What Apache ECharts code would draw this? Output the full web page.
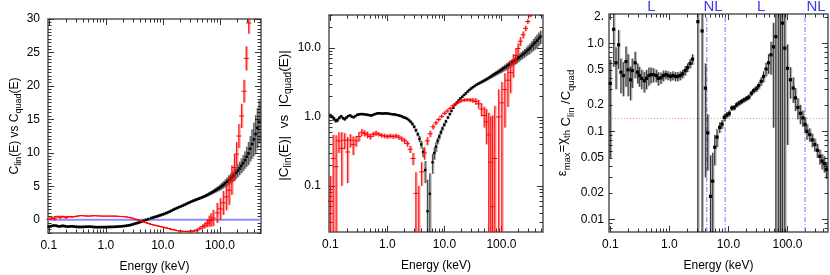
<!DOCTYPE html>
<html><head><meta charset="utf-8">
<script src="https://cdn.jsdelivr.net/npm/echarts@6/dist/echarts.min.js"></script>
<style>html,body{margin:0;padding:0;background:#fff}#c{width:830px;height:275px}</style>
</head><body><div id="c"></div>
<script>
// ---------- axis ranges & tick labels ----------
const p1Energy = [0.097, 525];
const p2Energy = [0.0945, 537];
const p3Energy = [0.095, 485];
const energyMajorTicks = [0.1, 1, 10, 100];
const energyTickLabels = ['0.1', '1.0', '10.0', '100.0'];

const p1Range = [-2, 30];
const p1TickValues = [0, 5, 10, 15, 20, 25, 30];
const p1TickLabels = ['0', '5', '10', '15', '20', '25', '30'];

const p2Range = [0.0215, 30];
const p2TickValues = [0.1, 1, 10];
const p2TickLabels = ['0.1', '1.0', '10.0'];

const p3Range = [0.0072, 2.15];
const p3LabelValues = [0.01, 0.02, 0.05, 0.1, 0.2, 0.5, 1, 2];
const p3TickLabels = ['0.01', '0.02', '0.05', '0.1', '0.2', '0.5', '1.0', '2.'];
const p3MajorTicks = [0.01, 0.1, 1];

// ---------- C_lin(E) (black) ----------
const eLin = [
0.100,0.108,0.115,0.124,0.133,0.143,0.154,0.166,0.178,0.191,
0.205,0.221,0.237,0.255,0.274,0.294,0.316,0.340,0.365,0.392,
0.422,0.453,0.487,0.523,0.562,0.604,0.649,0.698,0.750,0.806,
0.866,0.931,1.00,1.07,1.15,1.24,1.33,1.43,1.54,1.65,
1.78,1.91,2.05,2.21,2.37,2.55,2.74,2.94,3.16,3.40,
3.65,3.92,4.22,4.60,5.05,5.55,6.20,6.65,7.10,7.60,
8.10,8.66,9.20,9.90,10.6,11.5,12.4,13.3,14.3,15.4,
16.5,17.8,19.1,20.5,22.1,23.7,25.5,27.4,29.4,31.6,
34.0,36.5,39.2,42.2,45.3,48.7,52.3,56.2,60.4,64.9,
69.8,75.0,80.6,86.6,93.1,100,107,115,124,133,
143,154,165,178,191,205,221,237,255,274,
294,316,340,365,392,422,453,487];
const cLin = [
-1.05,-1.00,-0.93,-0.88,-0.90,-0.97,-1.02,-0.96,-0.93,-0.98,
-1.03,-1.05,-1.01,-0.99,-1.03,-1.07,-1.09,-1.10,-1.10,-1.09,
-1.08,-1.07,-1.06,-1.05,-1.07,-1.10,-1.12,-1.13,-1.13,-1.12,
-1.12,-1.13,-1.12,-1.11,-1.10,-1.09,-1.09,-1.07,-1.06,-1.04,
-1.02,-0.99,-0.97,-0.94,-0.90,-0.85,-0.79,-0.72,-0.64,-0.56,
-0.48,-0.40,-0.31,-0.17,-0.043,0.077,0.22,0.30,0.37,0.45,
0.52,0.60,0.68,0.77,0.86,0.98,1.10,1.22,1.36,1.50,
1.62,1.74,1.86,1.96,2.08,2.20,2.33,2.46,2.58,2.70,
2.81,2.92,3.02,3.12,3.22,3.33,3.44,3.56,3.70,3.84,
3.99,4.14,4.30,4.46,4.63,4.80,5.00,5.20,5.42,5.65,
5.90,6.15,6.42,6.70,7.00,7.30,7.65,8.05,8.45,8.90,
9.40,9.90,10.6,11.3,12.0,12.8,13.7,14.6];
const cLinErr = [
0.06,0.06,0.06,0.06,0.06,0.05,0.05,0.05,0.05,0.05,
0.04,0.04,0.04,0.04,0.04,0.04,0.04,0.04,0.04,0.04,
0.04,0.04,0.04,0.04,0.04,0.04,0.04,0.04,0.04,0.04,
0.04,0.04,0.04,0.04,0.04,0.04,0.04,0.04,0.04,0.04,
0.04,0.04,0.04,0.04,0.04,0.04,0.04,0.04,0.04,0.04,
0.05,0.05,0.05,0.06,0.08,0.075,0.07,0.06,0.06,0.05,
0.05,0.05,0.05,0.05,0.05,0.05,0.05,0.05,0.05,0.05,
0.05,0.05,0.05,0.06,0.07,0.08,0.08,0.09,0.10,0.10,
0.11,0.12,0.13,0.14,0.15,0.16,0.18,0.20,0.22,0.25,
0.28,0.30,0.33,0.36,0.40,0.45,0.50,0.55,0.60,0.65,
0.70,0.75,0.80,0.85,0.90,0.95,1.00,1.10,1.20,1.30,
1.50,1.70,1.90,2.20,2.50,2.80,3.00,3.20];

// ---------- C_quad(E) (red) ----------
const eQuad = [
0.100,0.112,0.126,0.141,0.158,0.178,0.200,0.224,0.251,0.282,
0.316,0.355,0.398,0.447,0.501,0.562,0.631,0.708,0.794,0.891,
1.00,1.12,1.26,1.41,1.58,1.78,2.00,2.24,2.51,2.82,
3.16,3.55,3.98,4.47,5.01,5.62,6.31,7.08,7.94,8.91,
10.0,11.2,12.6,14.1,15.8,17.8,20.0,22.4,25.1,28.2,
31.6,35.5,39.8,44.6,50.0,54.6,60.0,65.0,70.0,76.5,
89.5,102,115,130,145,162,180,196,215,240,
265,290,320];
const cQuad = [
0.06,0.25,0.19,0.45,0.35,0.46,0.31,0.46,0.40,0.45,
0.52,0.60,0.58,0.55,0.52,0.56,0.58,0.56,0.54,0.53,
0.52,0.53,0.52,0.53,0.51,0.48,0.45,0.41,0.34,0.25,
0.078,-0.02,-0.16,-0.30,-0.45,-0.57,-0.72,-0.82,-0.92,-1.02,
-1.13,-1.22,-1.33,-1.45,-1.55,-1.64,-1.72,-1.76,-1.77,-1.76,
-1.74,-1.68,-1.55,-1.30,-1.05,-0.85,-0.55,-0.22,-0.05,0.25,
1.0,1.6,2.5,3.4,4.4,5.9,7.8,9.8,12.5,15.5,
19.2,24.1,29.4];
const cQuadErr = [
0.08,0.30,0.35,0.15,0.25,0.12,0.20,0.10,0.12,0.08,
0.08,0.07,0.06,0.06,0.05,0.05,0.05,0.04,0.04,0.04,
0.04,0.04,0.04,0.04,0.04,0.04,0.04,0.04,0.04,0.05,
0.08,0.08,0.06,0.06,0.06,0.06,0.06,0.06,0.06,0.06,
0.07,0.07,0.07,0.08,0.08,0.08,0.09,0.10,0.10,0.12,
0.14,0.18,0.22,0.28,0.35,0.45,0.60,0.80,1.0,1.2,
1.5,1.6,1.8,2.0,2.2,2.2,2.0,1.8,1.8,1.8,
1.7,1.8,1.6];

// ---------- eps_max (black, right panel) ----------
const eEps = [
0.100,0.114,0.125,0.138,0.151,0.166,0.184,0.200,0.220,0.235,
0.263,0.290,0.310,0.340,0.375,0.410,0.450,0.490,0.540,0.600,
0.650,0.720,0.790,0.870,0.950,1.05,1.15,1.27,1.39,1.53,
1.68,1.85,2.03,2.24,2.46,3.03,3.58,4.07,4.46,4.97,
5.41,5.86,6.40,7.10,7.77,8.50,9.40,10.3,11.4,12.5,
13.8,15.2,16.7,18.3,20.2,22.1,24.4,26.8,29.6,32.5,
35.8,39.3,43.3,47.7,52.5,57.7,63.5,70.0,76.0,82.0,
90.0,100,112,125,136,150,165,182,198,214,
238,262,290,320,353,385,420,455];
const eps = [
0.35,1.44,0.60,0.96,0.47,0.43,0.62,0.50,0.385,0.49,
0.60,0.47,0.43,0.40,0.375,0.40,0.43,0.44,0.44,0.43,
0.40,0.405,0.43,0.44,0.43,0.42,0.43,0.42,0.42,0.43,
0.45,0.49,0.53,0.59,0.66,1.76,1.38,0.31,0.096,0.0183,
0.0272,0.066,0.086,0.111,0.121,0.144,0.153,0.160,0.184,0.186,
0.200,0.210,0.218,0.227,0.236,0.245,0.270,0.290,0.305,0.330,
0.370,0.420,0.510,0.600,0.740,0.910,1.19,2.6,3.5,1.69,
0.88,0.52,0.385,0.31,0.24,0.187,0.160,0.142,0.120,0.100,
0.092,0.080,0.071,0.061,0.052,0.046,0.043,0.037];
const epsErr = [
0.30,0.90,0.30,0.45,0.20,0.18,0.30,0.25,0.16,0.18,
0.20,0.12,0.11,0.10,0.10,0.10,0.10,0.09,0.08,0.07,
0.07,0.06,0.06,0.05,0.05,0.05,0.05,0.05,0.05,0.05,
0.05,0.06,0.06,0.07,0.09,5.0,5.0,0.28,0.06,0.035,
0.03,0.025,0.02,0.015,0.014,0.014,0.013,0.013,0.013,0.013,
0.014,0.014,0.015,0.015,0.016,0.017,0.02,0.022,0.025,0.03,
0.04,0.06,0.09,0.15,0.30,0.80,3.0,8.0,10.0,5.0,
2.0,0.45,0.15,0.10,0.07,0.05,0.04,0.03,0.025,0.02,
0.016,0.014,0.012,0.011,0.010,0.009,0.009,0.008];

// ---------- reference lines & region labels (right panel) ----------
const chiTh = [0.14];
const regionEdges = [4.3, 8.8, 198];
const regionLabels = ['L', 'NL', 'L', 'NL'];
const regionLabelEnergy = [0.495, 5.5, 36, 305];
const zeroLine = [0];

// ---------- helpers ----------
const FONT = '"Liberation Sans", Arial, Helvetica, sans-serif';
const TICK = {color: '#333', width: 1};

function labelFor(v, vals, labels) {
  for (let i = 0; i < vals.length; i++) {
    if (Math.abs(v - vals[i]) <= 1e-3 * Math.max(1e-3, Math.abs(vals[i]))) return labels[i];
  }
  return '';
}
function logMinor(lo, hi) {
  const out = [];
  for (let d = -3; d <= 3; d++) for (let m = 2; m <= 9; m++) {
    const v = +(m * Math.pow(10, d)).toPrecision(6);
    if (v >= lo && v <= hi) out.push(v);
  }
  return out;
}
function linMinor(lo, hi, step) {
  const out = [];
  for (let v = lo; v <= hi + 1e-9; v += step) out.push(+v.toFixed(4));
  return out;
}

const NOLINE = {show: false, onZero: false};

function xAxesFor(gi, range) {
  const minor = logMinor(range[0], range[1]);
  const base = {gridIndex: gi, type: 'log', logBase: 10, min: range[0], max: range[1],
    axisLine: NOLINE, splitLine: {show: false}, minorTick: {show: false}};
  return [
    Object.assign({}, base, {position: 'bottom', name: 'Energy (keV)', nameLocation: 'middle', nameGap: 28,
      nameTextStyle: {fontFamily: FONT, fontSize: 12, color: '#000'},
      axisTick: {show: true, inside: true, length: 6, customValues: energyMajorTicks, lineStyle: TICK},
      axisLabel: {show: true, customValues: energyMajorTicks, margin: 7, fontFamily: FONT, fontSize: 12, color: '#000',
        formatter: v => labelFor(v, energyMajorTicks, energyTickLabels)}}),
    Object.assign({}, base, {position: 'bottom', axisTick: {show: true, inside: true, length: 3.5, customValues: minor, lineStyle: TICK}, axisLabel: {show: false}}),
    Object.assign({}, base, {position: 'top', axisTick: {show: true, inside: true, length: 6, customValues: energyMajorTicks, lineStyle: TICK}, axisLabel: {show: false}}),
    Object.assign({}, base, {position: 'top', axisTick: {show: true, inside: true, length: 3.5, customValues: minor, lineStyle: TICK}, axisLabel: {show: false}})
  ];
}
function yAxesFor(gi, o) {
  const base = {gridIndex: gi, type: o.type, min: o.range[0], max: o.range[1],
    axisLine: NOLINE, splitLine: {show: false}, minorTick: {show: false}};
  if (o.type === 'log') base.logBase = 10;
  return [
    Object.assign({}, base, {position: 'left', name: o.name, nameLocation: 'middle', nameGap: o.nameGap, nameRotate: 90,
      nameTextStyle: {rich: o.rich, padding: o.namePad || 0},
      axisTick: {show: true, inside: true, length: 6, customValues: o.major, lineStyle: TICK},
      axisLabel: {show: true, customValues: o.labelValues, margin: o.labelMargin, fontFamily: FONT, fontSize: 12, color: '#000',
        formatter: v => labelFor(v, o.labelValues, o.labels)}}),
    Object.assign({}, base, {position: 'left', axisTick: {show: true, inside: true, length: 3.5, customValues: o.minor, lineStyle: TICK}, axisLabel: {show: false}}),
    Object.assign({}, base, {position: 'right', axisTick: {show: true, inside: true, length: 6, customValues: o.major, lineStyle: TICK}, axisLabel: {show: false}}),
    Object.assign({}, base, {position: 'right', axisTick: {show: true, inside: true, length: 3.5, customValues: o.minor, lineStyle: TICK}, axisLabel: {show: false}})
  ];
}

function errSeries(o) {
  const data = o.E.map((e, i) => [e, o.abs ? Math.abs(o.V[i]) : o.V[i], o.Err[i]]);
  const red = o.kind === 'red';
  return {
    type: 'custom', xAxisIndex: o.axis, yAxisIndex: o.axis, silent: true, animation: false,
    data: data, encode: {x: 0, y: 1},
    renderItem: function (params, api) {
      const x = api.value(0), v = api.value(1), er = api.value(2);
      const lo = Math.max(v - er, o.yMin), hi = Math.min(v + er, o.yMax);
      const ch = [];
      if (hi > lo) {
        const a = api.coord([x, lo]), b = api.coord([x, hi]);
        ch.push({type: 'line', shape: {x1: a[0] + 0.5, y1: a[1], x2: b[0] + 0.5, y2: b[1]},
          style: {stroke: red ? 'rgba(255,0,0,0.38)' : 'rgba(0,0,0,0.3)', lineWidth: 2.6}});
        ch.push({type: 'line', shape: {x1: a[0], y1: a[1], x2: b[0], y2: b[1]},
          style: {stroke: red ? '#ff1010' : o.core, lineWidth: 1}});
      }
      if (v >= o.yMin && v <= o.yMax) {
        const p = api.coord([x, v]);
        if (red) {
          ch.push({type: 'line', shape: {x1: p[0] - 2.5, y1: p[1], x2: p[0] + 2.5, y2: p[1]}, style: {stroke: '#ff0000', lineWidth: 1}});
        } else {
          const s = o.size;
          ch.push({type: 'rect', shape: {x: p[0] - s / 2, y: p[1] - s / 2, width: s, height: s}, style: {fill: '#000'}});
        }
      }
      return {type: 'group', children: ch};
    }
  };
}
function hLineSeries(axis, xr, values, color, width, dash) {
  return {type: 'custom', xAxisIndex: axis, yAxisIndex: axis, silent: true, animation: false,
    data: values.map(v => [xr[0], v]), encode: {x: 0, y: 1},
    renderItem: function (params, api) {
      const a = api.coord([xr[0], api.value(1)]), b = api.coord([xr[1], api.value(1)]);
      return {type: 'line', shape: {x1: a[0], y1: a[1], x2: b[0], y2: b[1]},
        style: {stroke: color, lineWidth: width, lineDash: dash}};
    }};
}
function vLineSeries(axis, values, yr, color, width, dash) {
  return {type: 'custom', xAxisIndex: axis, yAxisIndex: axis, silent: true, animation: false,
    data: values.map(v => [v, yr[1]]), encode: {x: 0, y: 1},
    renderItem: function (params, api) {
      const a = api.coord([api.value(0), yr[0]]), b = api.coord([api.value(0), yr[1]]);
      return {type: 'line', shape: {x1: a[0], y1: a[1], x2: b[0], y2: b[1]},
        style: {stroke: color, lineWidth: width, lineDash: dash}};
    }};
}

const subRich = {
  n: {fontFamily: FONT, fontSize: 12, color: '#000', verticalAlign: 'top'},
  s: {fontFamily: FONT, fontSize: 9, color: '#000', verticalAlign: 'top', padding: [5, 0, 0, 0]}
};
const subRich2 = {
  n: {fontFamily: FONT, fontSize: 13.5, color: '#000', verticalAlign: 'top'},
  s: {fontFamily: FONT, fontSize: 10, color: '#000', verticalAlign: 'top', padding: [6, 0, 0, 0]}
};
const epsRich = {
  g: {fontFamily: FONT, fontSize: 13, color: '#000', verticalAlign: 'top'},
  s: {fontFamily: FONT, fontSize: 9.5, color: '#000', verticalAlign: 'top', padding: [7, 0, 0, 0]},
  d: {fontFamily: FONT, fontSize: 13, color: '#000', verticalAlign: 'top', padding: [4, 0, 0, 0]},
  ds: {fontFamily: FONT, fontSize: 9.5, color: '#000', verticalAlign: 'top', padding: [11, 0, 0, 0]}
};

const grids = [
  {left: 48, top: 19, width: 213, height: 214},
  {left: 329, top: 15, width: 214, height: 217},
  {left: 609, top: 14, width: 219, height: 218}
].map(g => Object.assign(g, {show: true, borderColor: '#555', borderWidth: 1.5, backgroundColor: 'transparent', containLabel: false, outerBoundsMode: 'none'}));

const xAxis = [].concat(xAxesFor(0, p1Energy), xAxesFor(1, p2Energy), xAxesFor(2, p3Energy));
const yAxis = [].concat(
  yAxesFor(0, {type: 'value', range: p1Range, major: p1TickValues, labelValues: p1TickValues, labels: p1TickLabels,
    minor: linMinor(p1Range[0], p1Range[1], 0.5), labelMargin: 8, nameGap: 24,
    name: '{n|C}{s|lin}{n|(E) vs C}{s|quad}{n|(E)}', rich: subRich}),
  yAxesFor(1, {type: 'log', range: p2Range, major: p2TickValues, labelValues: p2TickValues, labels: p2TickLabels,
    minor: logMinor(p2Range[0], p2Range[1]), labelMargin: 8, nameGap: 35, namePad: [0, 0, 0, 16],
    name: '{n||C}{s|lin}{n|(E)|  vs  |C}{s|quad}{n|(E)|}', rich: subRich2}),
  yAxesFor(2, {type: 'log', range: p3Range, major: p3MajorTicks, labelValues: p3LabelValues, labels: p3TickLabels,
    minor: logMinor(p3Range[0], p3Range[1]), labelMargin: 5, nameGap: 9,
    name: '{g|ε}{s|max}{g|=χ}{s|th}{d| C}{ds|lin}{d| /C}{ds|quad}', rich: epsRich})
);

const series = [
  hLineSeries(0, p1Energy, zeroLine, '#8c8cff', 2, null),
  errSeries({axis: 0, E: eLin, V: cLin, Err: cLinErr, kind: 'black', size: 2.6, core: 'rgba(0,0,0,0.5)', yMin: p1Range[0], yMax: p1Range[1]}),
  errSeries({axis: 0, E: eQuad, V: cQuad, Err: cQuadErr, kind: 'red', yMin: p1Range[0], yMax: p1Range[1]}),

  errSeries({axis: 4, E: eLin, V: cLin, Err: cLinErr, kind: 'black', size: 2.4, core: 'rgba(0,0,0,0.6)', abs: true, yMin: p2Range[0], yMax: p2Range[1]}),
  errSeries({axis: 4, E: eQuad, V: cQuad, Err: cQuadErr, kind: 'red', abs: true, yMin: p2Range[0], yMax: p2Range[1]}),

  hLineSeries(8, p3Energy, chiTh, '#ff8c8c', 1, [1, 2]),
  vLineSeries(8, regionEdges, p3Range, '#7777ff', 1, [5, 2, 1, 2]),
  errSeries({axis: 8, E: eEps, V: eps, Err: epsErr, kind: 'black', size: 3.2, core: 'rgba(0,0,0,0.7)', yMin: p3Range[0], yMax: p3Range[1]}),
  {type: 'custom', xAxisIndex: 8, yAxisIndex: 8, silent: true, animation: false,
    data: regionLabelEnergy.map((e, i) => [e, p3Range[1]]), encode: {x: 0, y: 1},
    renderItem: function (params, api) {
      const p = api.coord([api.value(0), p3Range[1]]);
      return {type: 'text', x: p[0], y: p[1] - 7,
        style: {text: regionLabels[params.dataIndex], fill: '#3a3af0', fontSize: 15, fontFamily: FONT,
          align: 'center', verticalAlign: 'middle'}};
    }}
];

const chart = echarts.init(document.getElementById('c'), null, {renderer: 'canvas'});
chart.setOption({animation: false, backgroundColor: '#fff', grid: grids, xAxis: xAxis, yAxis: yAxis, series: series});
</script>
</body></html>
